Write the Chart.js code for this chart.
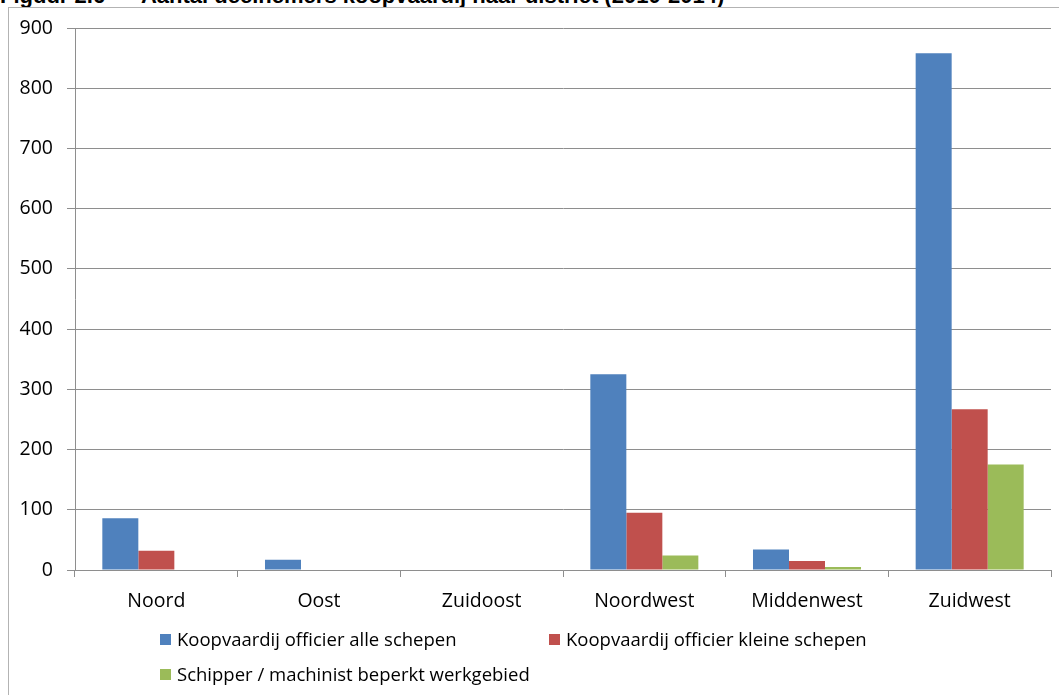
<!DOCTYPE html>
<html><head><meta charset="utf-8">
<script src="https://cdn.jsdelivr.net/npm/chart.js@4.4.1/dist/chart.umd.min.js"></script>
<style>
html,body{margin:0;padding:0;background:#fff;overflow:hidden;width:1059px;height:695px;}
#title{position:absolute;left:0;top:-15px;font:bold 22px "Liberation Sans",Arial,sans-serif;white-space:pre;line-height:22px;color:#000;}
#frame{position:absolute;left:8px;top:7px;width:1100px;height:800px;border-left:1px solid #b3b3b3;border-top:1px solid #b3b3b3;}
#c{position:absolute;left:0;top:0;}
.li{position:absolute;white-space:nowrap;font:18.5px "Open Sans",sans-serif;color:#000;line-height:22px;height:22px;}
.sw{position:absolute;left:0;top:5px;width:11px;height:11px;}
.tx{position:absolute;left:17px;top:-1px;}
</style></head>
<body>
<div id="title"></div>
<div id="frame"></div>
<canvas id="c" width="1059" height="695"></canvas>
<div id="legend"></div>
<script>
const titleText = 'Figuur 2.6      Aantal deelnemers koopvaardij naar district (2010-2014)';
const categories = ['Noord', 'Oost', 'Zuidoost', 'Noordwest', 'Middenwest', 'Zuidwest'];
const seriesLabels = ['Koopvaardij officier alle schepen', 'Koopvaardij officier kleine schepen', 'Schipper / machinist beperkt werkgebied'];
const alleSchepen = [86, 17, 0, 325, 34, 858];
const kleineSchepen = [32, 0, 0, 95, 15, 267];
const beperktWerkgebied = [0, 0, 0, 24, 5, 175];
const yTicks = [0, 100, 200, 300, 400, 500, 600, 700, 800, 900];
const colors = ['#4F81BD', '#C0504D', '#9BBB59'];

document.getElementById('title').textContent = titleText;

const seriesValues = [alleSchepen, kleineSchepen, beperktWerkgebied];
const gridColor = '#8e8e8e';

const chart = new Chart(document.getElementById('c'), {
  type: 'bar',
  data: {
    labels: categories,
    datasets: seriesLabels.map((lab, i) => ({
      label: lab,
      data: seriesValues[i],
      backgroundColor: colors[i],
      borderWidth: 0,
      categoryPercentage: 0.664,
      barPercentage: 1.0
    }))
  },
  options: {
    responsive: false,
    animation: false,
    layout: { padding: { left: 0, right: 8, top: 28, bottom: 80 } },
    plugins: { legend: { display: false }, tooltip: { enabled: false } },
    scales: {
      y: {
        min: yTicks[0], max: yTicks[yTicks.length - 1],
        afterBuildTicks: s => { s.ticks = yTicks.map(v => ({ value: v })); },
        afterFit: s => { s.width = 75; },
        ticks: { font: { family: 'Open Sans', size: 19.5 }, color: '#000', padding: 14 },
        grid: { color: gridColor, tickLength: 8, lineWidth: 1 },
        border: { color: gridColor, width: 1 }
      },
      x: {
        afterFit: s => { s.height = 45; },
        ticks: { font: { family: 'Open Sans', size: 19.5 }, color: '#000', padding: 13 },
        grid: { drawOnChartArea: false, offset: true, tickLength: 7, color: gridColor },
        border: { color: gridColor, width: 1 }
      }
    }
  }
});

// Legend (HTML), laid out in a two-column grid like the original
const legend = document.getElementById('legend');
const legendPos = [[160, 629], [549, 629], [160, 664]];
seriesLabels.forEach((lab, i) => {
  const d = document.createElement('div');
  d.className = 'li';
  d.style.left = legendPos[i][0] + 'px';
  d.style.top = legendPos[i][1] + 'px';
  const sw = document.createElement('span');
  sw.className = 'sw';
  sw.style.background = colors[i];
  const tx = document.createElement('span');
  tx.className = 'tx';
  tx.textContent = lab;
  d.appendChild(sw); d.appendChild(tx);
  legend.appendChild(d);
});
</script>
</body></html>
